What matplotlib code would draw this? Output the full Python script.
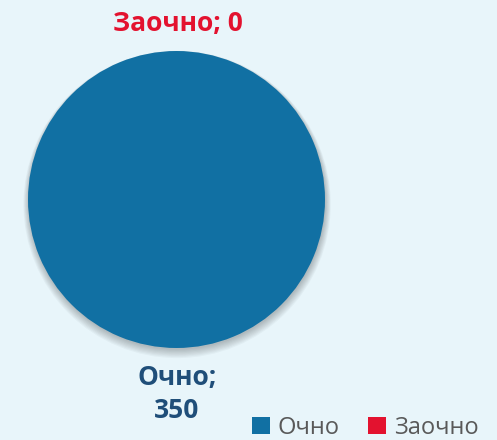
import matplotlib.pyplot as plt
from matplotlib.patches import Circle

categories = ["Очно", "Заочно"]
values = [350, 0]
colors = ["#1170A3", "#E3122F"]
label_colors = ["#1F4E79", "#E3122F"]

bg = "#E8F5FA"
W, H = 497, 440

fig = plt.figure(figsize=(W / 100, H / 100), dpi=100, facecolor=bg)

# pie axes placed in pixel terms
cx, cy, r = 176.5, 199.5, 148.5
ax = fig.add_axes([(cx - r) / W, (H - cy - r) / H, 2 * r / W, 2 * r / H])
ax.set_facecolor(bg)
ax.axis("off")

# soft shadow under the pie
for i in range(8):
    ax.add_patch(Circle((0.004, -0.012 - i * 0.003), 1.0 + i * 0.005,
                        color="black", alpha=0.03, lw=0, zorder=0, clip_on=False))

wedges, _ = ax.pie(values, colors=colors, startangle=90, counterclock=False,
                   radius=1.0, wedgeprops=dict(linewidth=0))
for w in wedges:
    w.set_zorder(2)
ax.set_xlim(-1, 1)
ax.set_ylim(-1, 1)

font = "Open Sans"
fig.text(178 / W, 1 - 23 / H, f"{categories[1]}; {values[1]}", ha="center", va="center",
         fontsize=19, fontweight="bold", color=label_colors[1], family=font)
fig.text(177 / W, 1 - 394 / H, f"{categories[0]};\n{values[0]}", ha="center", va="center",
         fontsize=19, fontweight="bold", color=label_colors[0], family=font,
         linespacing=1.3)

leg = fig.legend(wedges, categories, loc="lower left", bbox_to_anchor=(252 / W, 0.0),
                 ncol=2, frameon=False, borderpad=0, borderaxespad=0,
                 handlelength=0.75, handleheight=0.75,
                 handletextpad=0.35, columnspacing=1.2,
                 prop=dict(family=font, size=17))
for t in leg.get_texts():
    t.set_color("#595959")

fig.savefig("out.png", dpi=100, facecolor=bg)
